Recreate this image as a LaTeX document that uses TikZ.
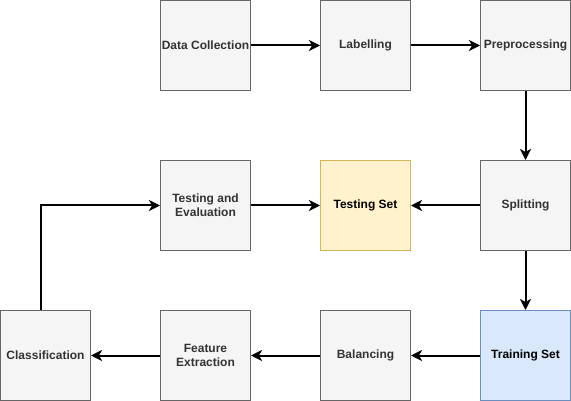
\documentclass[tikz,border=0pt]{standalone}
\usepackage{fontspec}
\setmainfont{Liberation Sans}
\usetikzlibrary{arrows.meta}
\definecolor{grayfill}{HTML}{F5F5F5}
\definecolor{graydraw}{HTML}{666666}
\definecolor{graytext}{HTML}{333333}
\definecolor{yellowfill}{HTML}{FFF2CC}
\definecolor{yellowdraw}{HTML}{D6B656}
\definecolor{bluefill}{HTML}{DAE8FC}
\definecolor{bluedraw}{HTML}{6C8EBF}
\begin{document}
\begin{tikzpicture}[x=1pt,y=-1pt,
  box/.style={draw=graydraw,fill=grayfill,text=graytext,line width=1pt,minimum width=90pt,minimum height=90pt,inner sep=0pt,align=center,font=\fontsize{12}{14}\selectfont\bfseries},
  ybox/.style={box,draw=yellowdraw,fill=yellowfill,text=black},
  bbox/.style={box,draw=bluedraw,fill=bluefill,text=black},
  conn/.style={line width=2pt,-{Stealth[length=11pt,width=11pt,inset=3pt]}}]
\useasboundingbox (0,0) rectangle (571,401);
\node[box] (dc) at (205.5,45.5) {Data Collection};
\node[box] (lab) at (365.5,45.5) {Labelling};
\node[box] (pre) at (525.5,45.5) {Preprocessing};
\node[box] (te) at (205.5,205.5) {Testing and\\Evaluation};
\node[ybox] (ts) at (365.5,205.5) {Testing Set};
\node[box] (sp) at (525.5,205.5) {Splitting};
\node[box] (cl) at (45.5,355.5) {Classification};
\node[box] (fe) at (205.5,355.5) {Feature\\Extraction};
\node[box] (bal) at (365.5,355.5) {Balancing};
\node[bbox] (tr) at (525.5,355.5) {Training Set};
\draw[conn] (dc) -- (lab);
\draw[conn] (lab) -- (pre);
\draw[conn] (pre) -- (sp);
\draw[conn] (sp) -- (ts);
\draw[conn] (te) -- (ts);
\draw[conn] (sp) -- (tr);
\draw[conn] (tr) -- (bal);
\draw[conn] (bal) -- (fe);
\draw[conn] (fe) -- (cl);
\draw[conn] (cl.north -| 40.5,0) |- (te.west);
\end{tikzpicture}
\end{document}
